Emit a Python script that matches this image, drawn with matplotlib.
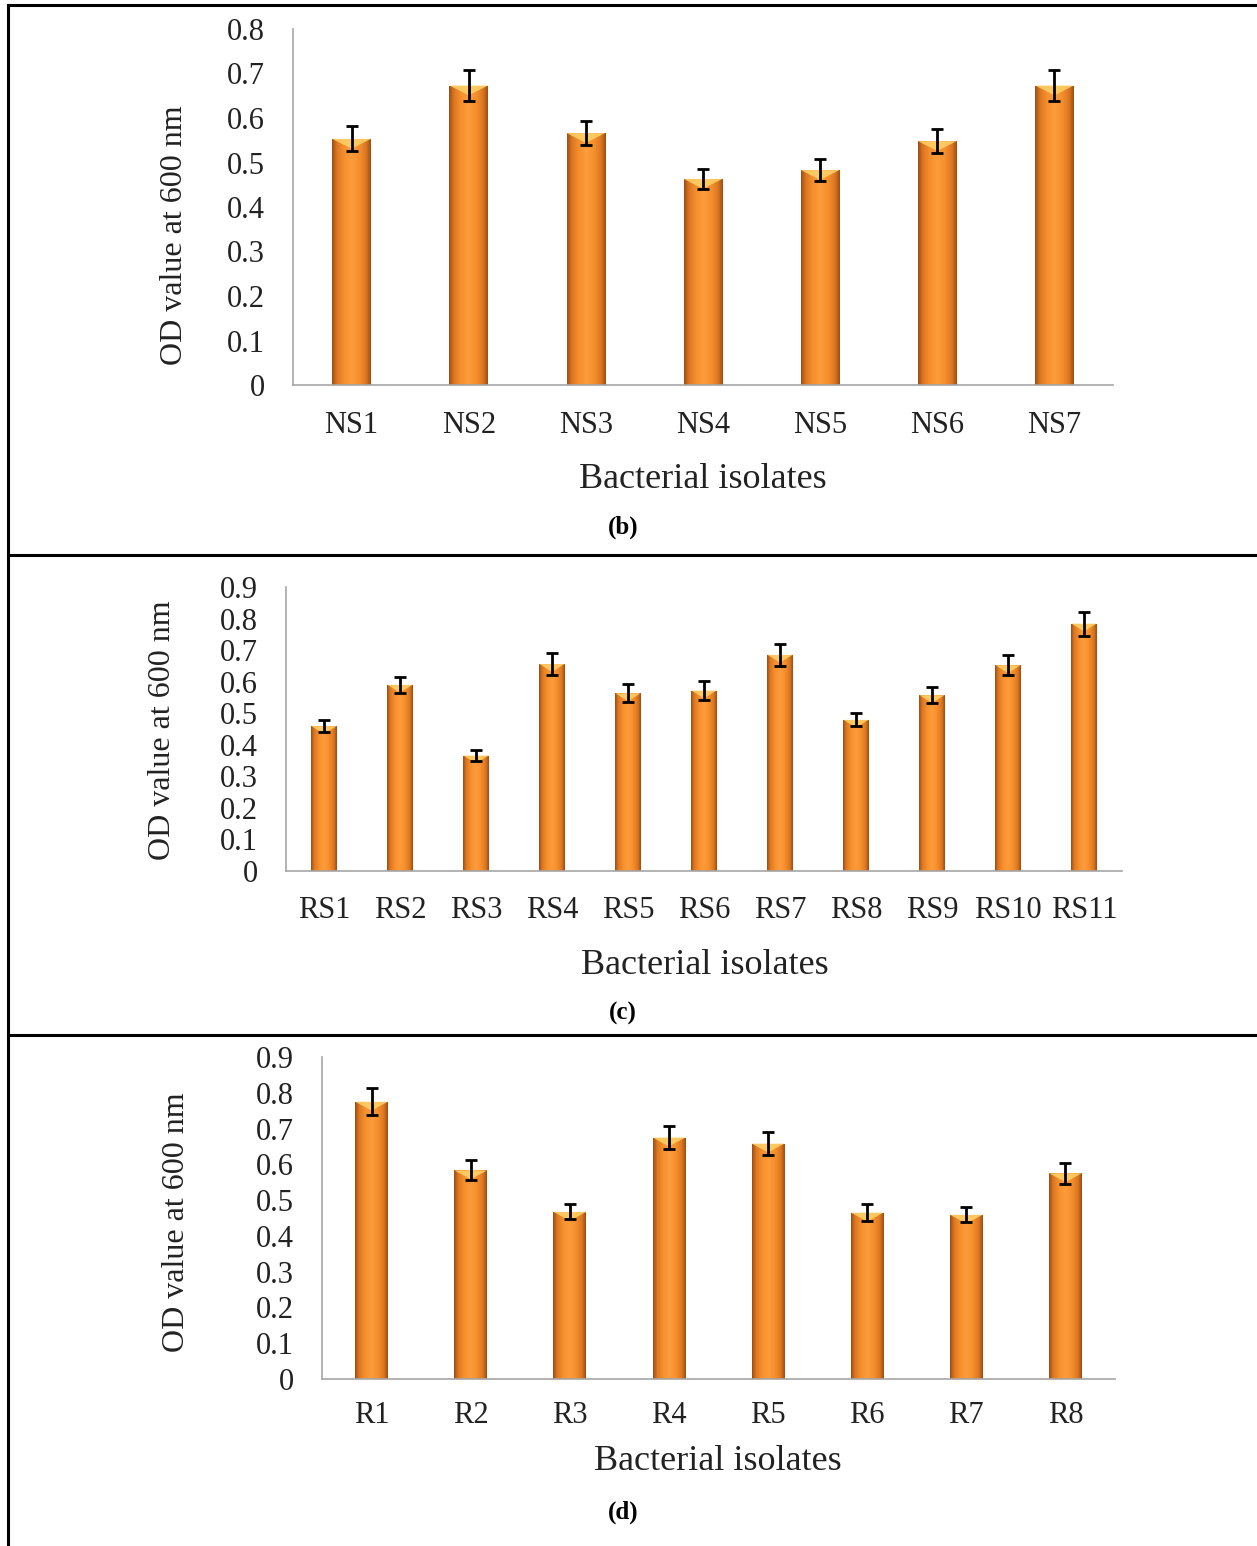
import numpy as np
import matplotlib
matplotlib.use('Agg')
import matplotlib.pyplot as plt
from matplotlib.colors import LinearSegmentedColormap
from matplotlib.lines import Line2D
from matplotlib.patches import Polygon

plt.rcParams['font.family'] = ['Liberation Serif', 'DejaVu Serif']

# panel (b)
ns_labels = ['NS1', 'NS2', 'NS3', 'NS4', 'NS5', 'NS6', 'NS7']
ns_vals = [0.553, 0.673, 0.566, 0.463, 0.483, 0.548, 0.673]
ns_err = [0.028, 0.034, 0.027, 0.022, 0.025, 0.027, 0.034]

# panel (c)
rs_labels = ['RS1', 'RS2', 'RS3', 'RS4', 'RS5', 'RS6', 'RS7', 'RS8', 'RS9', 'RS10', 'RS11']
rs_vals = [0.459, 0.590, 0.366, 0.656, 0.563, 0.572, 0.685, 0.479, 0.557, 0.652, 0.784]
rs_err = [0.019, 0.026, 0.016, 0.035, 0.029, 0.030, 0.034, 0.021, 0.026, 0.031, 0.038]

# panel (d)
r_labels = ['R1', 'R2', 'R3', 'R4', 'R5', 'R6', 'R7', 'R8']
r_vals = [0.775, 0.583, 0.467, 0.675, 0.658, 0.465, 0.459, 0.575]
r_err = [0.037, 0.028, 0.021, 0.032, 0.032, 0.023, 0.021, 0.029]

W, H = 1257, 1546
fig = plt.figure(figsize=(W / 100, H / 100), dpi=100)
fig.patch.set_facecolor('white')

# cylinder-ish shading across each bar
grad = LinearSegmentedColormap.from_list(
    'cyl', [(0, '#a04e14'), (0.12, '#dc7722'), (0.3, '#f58f2c'), (0.5, '#fd9c3c'),
            (0.7, '#f58f2c'), (0.88, '#dc7722'), (1, '#a04e14')])


def px_axes(left, right, top, bottom):
    return fig.add_axes([left / W, 1 - bottom / H, (right - left) / W, (bottom - top) / H])


def panel(rect, labels, vals, errs, ymax, ylab_xy, xlab_xy, letter_xy, letter, tickpad):
    ax = px_axes(*rect)
    x = np.arange(len(labels))
    bars = ax.bar(x, vals, width=0.33, color='#f28c28', edgecolor='none', zorder=2)
    g = np.linspace(0, 1, 64).reshape(1, -1)
    for b in bars:
        x0, w, h = b.get_x(), b.get_width(), b.get_height()
        im = ax.imshow(g, cmap=grad, extent=(x0, x0 + w, 0, h), aspect='auto', zorder=2)
        im.set_clip_path(b)
        tri = Polygon([[x0, h], [x0 + w, h], [x0 + w / 2, h - 0.022 * ymax / 0.8]],
                      closed=True, facecolor='#ffd36a', edgecolor='none', alpha=0.85, zorder=3)
        ax.add_patch(tri)
    ax.errorbar(x, vals, yerr=errs, fmt='none', ecolor='black', elinewidth=2,
                capsize=4, capthick=2, zorder=4)
    ax.set_xlim(-0.5, len(labels) - 0.5)
    ax.set_ylim(0, ymax)
    ax.set_yticks(np.round(np.arange(0, ymax + 0.01, 0.1), 1))
    ax.set_yticklabels(['0'] + ['%.1f' % v for v in np.arange(0.1, ymax + 0.01, 0.1)])
    ax.set_xticks(x)
    ax.set_xticklabels(labels)
    ax.tick_params(axis='both', length=0, labelsize=22, colors='#222222')
    ax.tick_params(axis='y', pad=20)
    ax.tick_params(axis='x', pad=tickpad)
    for s in ['top', 'right']:
        ax.spines[s].set_visible(False)
    for s in ['left', 'bottom']:
        ax.spines[s].set_color('#a6a6a6')
        ax.spines[s].set_linewidth(1.2)
    ax.set_facecolor('none')
    fig.text(ylab_xy[0] / W, 1 - ylab_xy[1] / H, 'OD value at 600 nm', rotation=90,
             ha='center', va='center', fontsize=23, color='#222222')
    fig.text(xlab_xy[0] / W, 1 - xlab_xy[1] / H, 'Bacterial isolates',
             ha='center', va='center', fontsize=26, color='#222222')
    fig.text(letter_xy[0] / W, 1 - letter_xy[1] / H, letter,
             ha='center', va='center', fontsize=18, fontweight='bold')
    return ax


panel((293, 1113, 29, 385), ns_labels, ns_vals, ns_err, 0.8,
      (175, 235), (703, 479), (623, 527), '(b)', 19)
panel((286, 1122, 587, 871), rs_labels, rs_vals, rs_err, 0.9,
      (162, 730), (705, 965), (623, 1013), '(c)', 18)
panel((322, 1115, 1057, 1379), r_labels, r_vals, r_err, 0.9,
      (177, 1222), (718, 1462), (623, 1512), '(d)', 16)

# frame lines around the panels
lw = 2.2
fig.add_artist(Line2D([8 / W, 8 / W], [1 - 5 / H, 0], color='black', lw=lw))
for yy in [5, 555, 1035]:
    fig.add_artist(Line2D([8 / W, 1], [1 - yy / H, 1 - yy / H], color='black', lw=lw))

fig.savefig('out.png', dpi=100)
